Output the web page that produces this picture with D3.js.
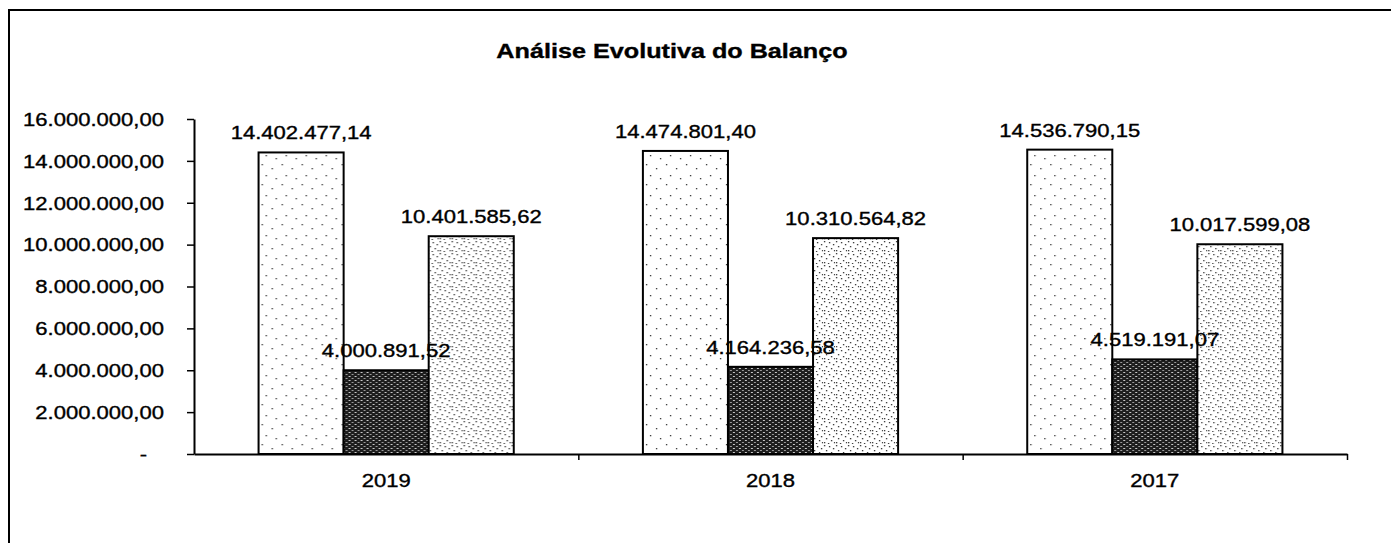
<!DOCTYPE html>
<html>
<head>
<meta charset="utf-8">
<script src="https://cdn.jsdelivr.net/npm/d3@7"></script>
<style>
  body { margin: 0; background: #fff; }
  text { font-family: "Liberation Sans", Arial, sans-serif; fill: #000; stroke: #000; stroke-width: 0.35px; }
</style>
</head>
<body>
<svg id="chart" width="1391" height="543"></svg>
<script>
//chart values
var years = ["2019", "2018", "2017"];
var ativoTotal = [14402477.14, 14474801.40, 14536790.15];
var passivo = [4000891.52, 4164236.58, 4519191.07];
var patrimonio = [10401585.62, 10310564.82, 10017599.08];
var yTicks = [0, 2000000, 4000000, 6000000, 8000000, 10000000, 12000000, 14000000, 16000000];
var chartTitle = "Análise Evolutiva do Balanço";

var series = [
    {key: "ativo", values: ativoTotal, fill: "url(#sparse)"},
    {key: "passivo", values: passivo, fill: "url(#dark)"},
    {key: "pl", values: patrimonio, fill: "url(#medium)"}
];

//brazilian number format 16.000.000,00
var locale = d3.formatLocale({decimal: ",", thousands: ".", grouping: [3], currency: ["", ""]});
var fmt = locale.format(",.2f");

//the scan is stretched sideways, so text gets stretched too
var stretch = 1.26;

var svg = d3.select("#chart");

//fill patterns that look like the printed stipples
var defs = svg.append("defs");

var sparse = defs.append("pattern")
    .attr("id", "sparse")
    .attr("patternUnits", "userSpaceOnUse")
    .attr("width", 20).attr("height", 20);
sparse.append("rect").attr("width", 20).attr("height", 20).attr("fill", "#fff");
[[3, 4], [13, 8], [7, 15], [17, 18]].forEach(function(p) {
    sparse.append("rect").attr("x", p[0]).attr("y", p[1])
        .attr("width", 1.3).attr("height", 1.3).attr("fill", "#333");
});

var medium = defs.append("pattern")
    .attr("id", "medium")
    .attr("patternUnits", "userSpaceOnUse")
    .attr("width", 12).attr("height", 12);
medium.append("rect").attr("width", 12).attr("height", 12).attr("fill", "#fff");
[[1, 1], [6, 2], [10, 4], [3, 6], [8, 8], [1, 10], [5, 11], [11, 10]].forEach(function(p) {
    medium.append("rect").attr("x", p[0]).attr("y", p[1])
        .attr("width", 1.3).attr("height", 1.3).attr("fill", "#333");
});

var dark = defs.append("pattern")
    .attr("id", "dark")
    .attr("patternUnits", "userSpaceOnUse")
    .attr("width", 6).attr("height", 4);
dark.append("rect").attr("width", 6).attr("height", 4).attr("fill", "#1e1e1e");
dark.append("rect").attr("x", 0).attr("y", 0).attr("width", 2).attr("height", 1).attr("fill", "#c8c8c8");
dark.append("rect").attr("x", 3).attr("y", 2).attr("width", 2).attr("height", 1).attr("fill", "#9a9a9a");

//outer frame of the scanned box (right and bottom run off the page)
svg.append("path")
    .attr("d", "M9,543V10H1391")
    .attr("fill", "none")
    .attr("stroke", "#000")
    .attr("stroke-width", 2);

//title
svg.append("text")
    .attr("transform", "translate(672,58) scale(" + stretch + ",1)")
    .attr("text-anchor", "middle")
    .style("font-size", "20px")
    .style("font-weight", "bold")
    .text(chartTitle);

//scales
var plot = {left: 194, right: 1347, top: 119, bottom: 454};

var x0 = d3.scaleBand()
    .domain(years)
    .range([plot.left, plot.right])
    .paddingInner(0.336)
    .paddingOuter(0.168);

var x1 = d3.scaleBand()
    .domain(series.map(function(s) { return s.key; }))
    .range([0, x0.bandwidth()]);

var y = d3.scaleLinear()
    .domain([0, 16000000])
    .range([plot.bottom, plot.top]);

//y axis
var yAxis = svg.append("g")
    .attr("transform", "translate(" + plot.left + ",0)")
    .call(d3.axisLeft(y)
        .tickValues(yTicks)
        .tickSize(7)
        .tickSizeOuter(0)
        .tickFormat(function(d) { return d === 0 ? "-" : fmt(d); }));
yAxis.select(".domain").attr("stroke-width", 2);
yAxis.selectAll(".tick line").attr("stroke-width", 1.5);
yAxis.selectAll(".tick text")
    .attr("x", 0)
    .attr("dy", "0.36em")
    .attr("transform", function(d) { return "translate(" + (d === 0 ? -47 : -30) + ",0) scale(" + stretch + ",1)"; })
    .style("font-size", "17.5px")
    .style("font-family", "Liberation Sans, Arial, sans-serif")
    .attr("fill", "#000");

//x axis line with the category boundary ticks
var xEdges = d3.scaleLinear().domain([0, years.length]).range([plot.left, plot.right]);
var xAxis = svg.append("g")
    .attr("transform", "translate(0," + plot.bottom + ")")
    .call(d3.axisBottom(xEdges)
        .tickValues(d3.range(1, years.length + 1))
        .tickSize(6)
        .tickSizeOuter(0)
        .tickFormat(""));
xAxis.select(".domain").attr("stroke-width", 2);
xAxis.selectAll(".tick line").attr("stroke-width", 1.5);

//category labels
var xLabels = svg.append("g")
    .attr("transform", "translate(0," + plot.bottom + ")")
    .call(d3.axisBottom(x0).tickSize(0).tickPadding(0));
xLabels.select(".domain").remove();
xLabels.selectAll(".tick text")
    .attr("y", 0)
    .attr("dy", 0)
    .attr("transform", "translate(0,33) scale(" + stretch + ",1)")
    .style("font-size", "17.5px")
    .style("font-family", "Liberation Sans, Arial, sans-serif")
    .attr("fill", "#000");

//bars
var groups = svg.append("g").selectAll("g")
    .data(years)
    .enter().append("g")
    .attr("transform", function(d) { return "translate(" + x0(d) + ",0)"; });

groups.selectAll("rect")
    .data(function(d, i) { return series.map(function(s) { return {key: s.key, value: s.values[i], fill: s.fill}; }); })
    .enter().append("rect")
    .attr("x", function(d) { return x1(d.key); })
    .attr("y", function(d) { return y(d.value); })
    .attr("width", x1.bandwidth())
    .attr("height", function(d) { return y(0) - y(d.value); })
    .attr("fill", function(d) { return d.fill; })
    .attr("stroke", "#000")
    .attr("stroke-width", 2);

//value labels over the bars
groups.selectAll("text.value")
    .data(function(d, i) { return series.map(function(s) { return {key: s.key, value: s.values[i]}; }); })
    .enter().append("text")
    .attr("class", "value")
    .attr("text-anchor", "middle")
    .attr("transform", function(d) {
        return "translate(" + (x1(d.key) + x1.bandwidth() / 2) + "," + (y(d.value) - 13) + ") scale(" + stretch + ",1)";
    })
    .style("font-size", "17.5px")
    .text(function(d) { return fmt(d.value); });
</script>
</body>
</html>
